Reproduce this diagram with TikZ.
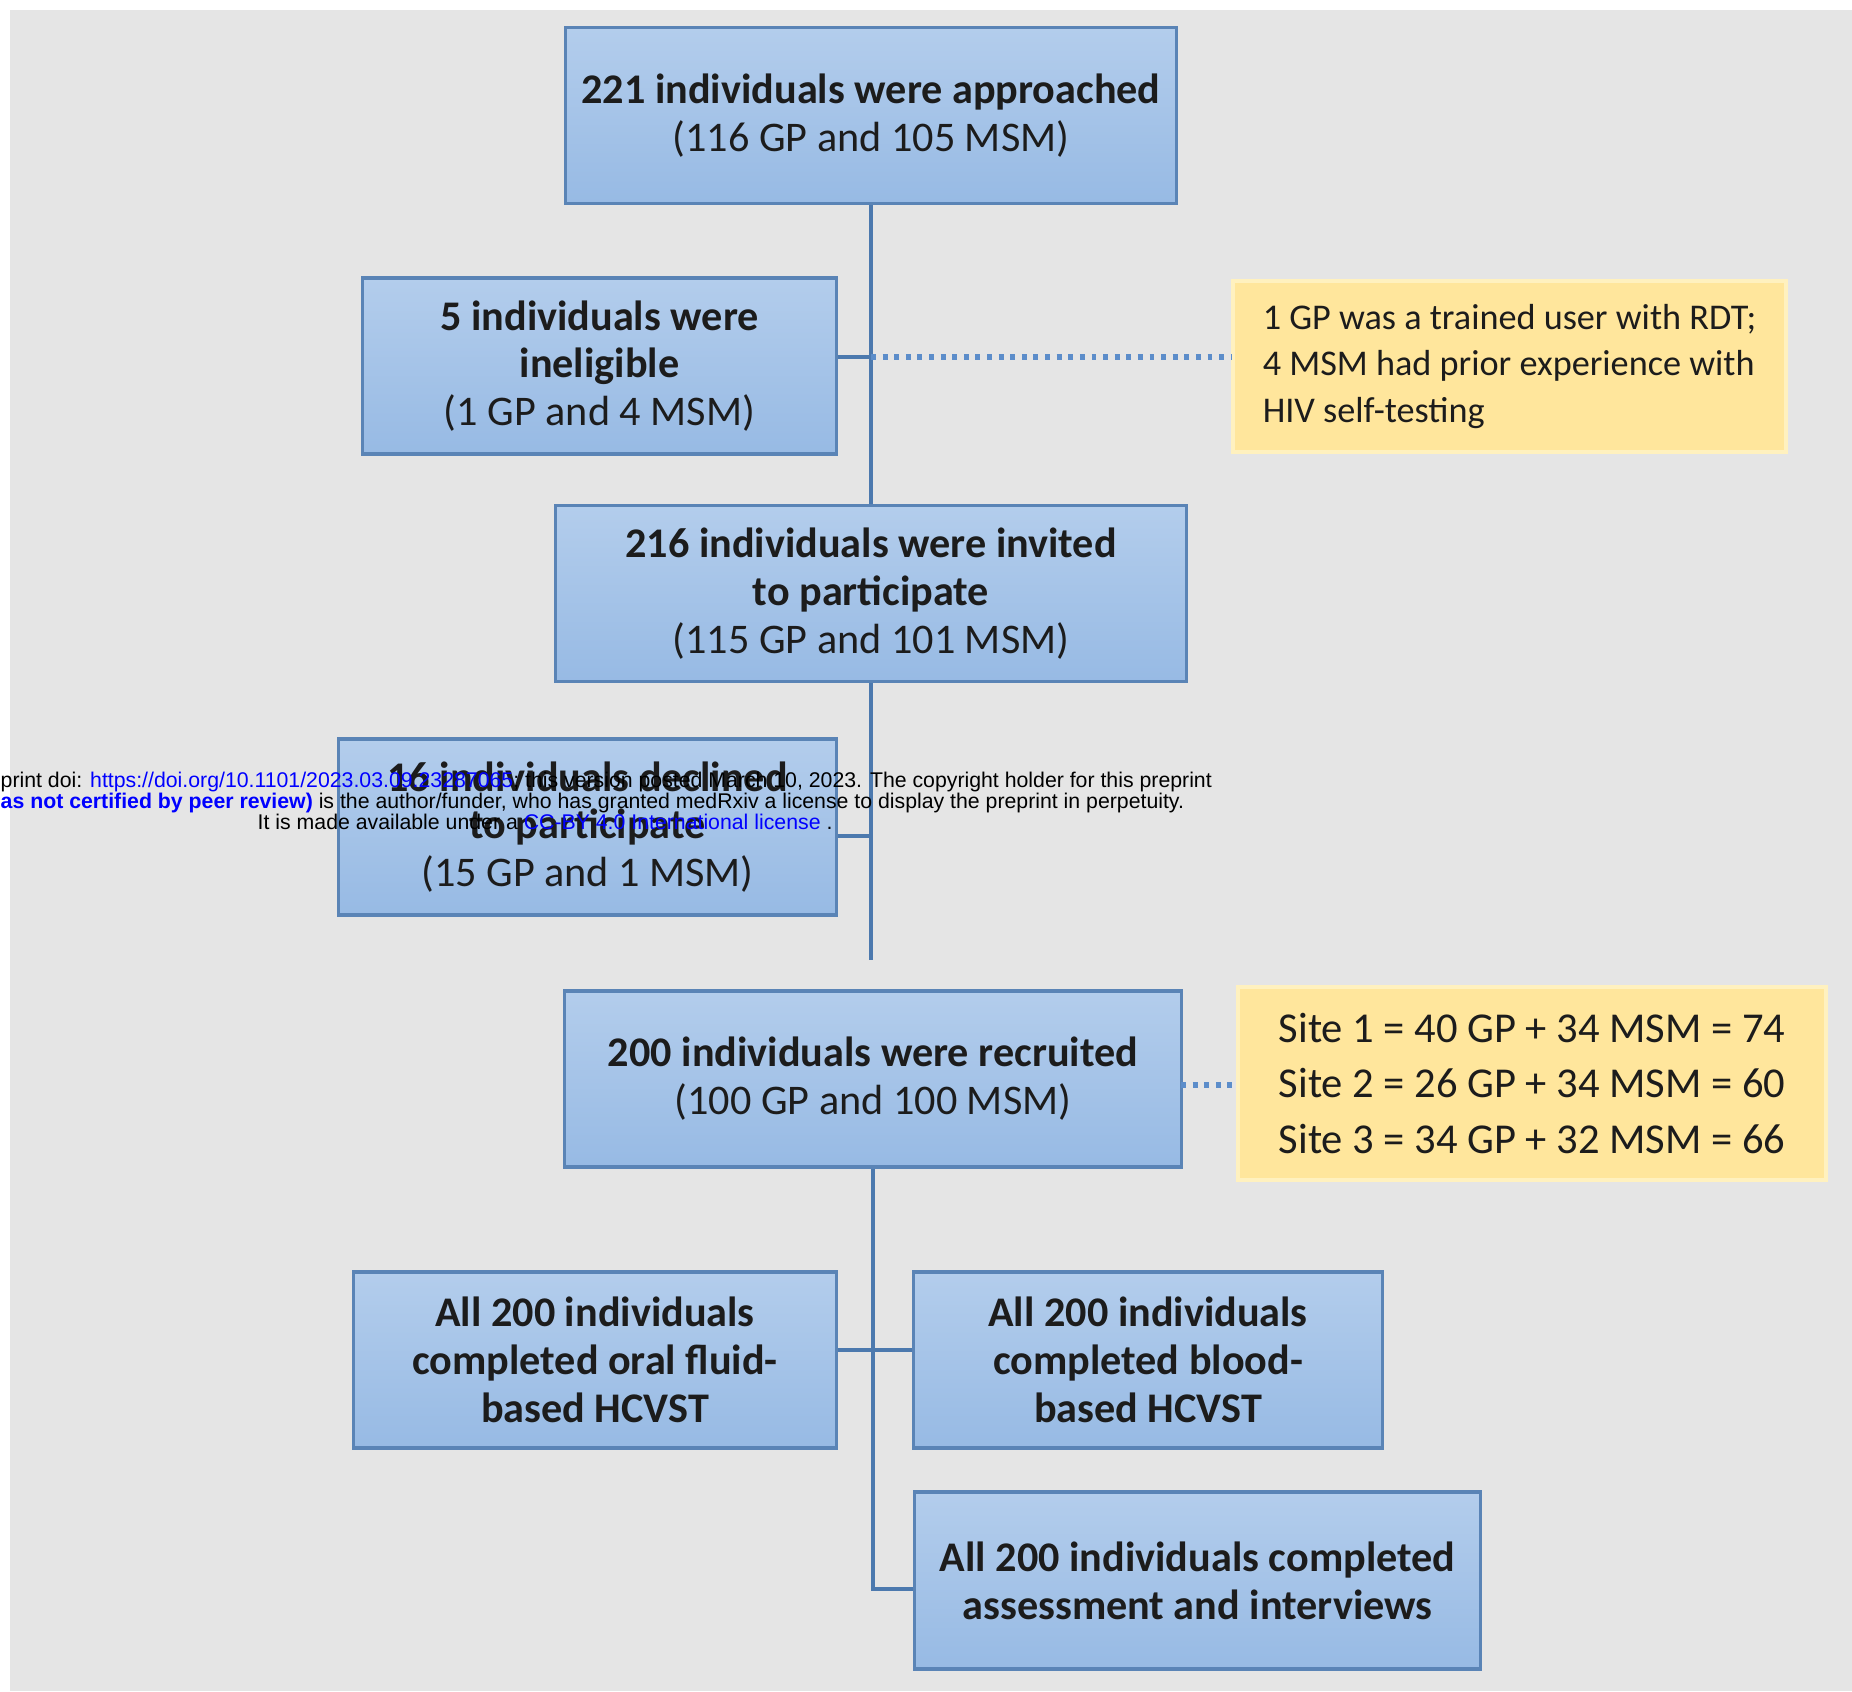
\documentclass[tikz,border=0pt]{standalone}
\usepackage{fontspec}
\setmainfont{Carlito}
\newfontfamily\wmfont{Liberation Sans}
\definecolor{bggray}{HTML}{E5E5E5}
\definecolor{boxtop}{HTML}{B3CDEC}
\definecolor{boxbot}{HTML}{97BAE4}
\definecolor{boxline}{HTML}{5A84B6}
\definecolor{linkcol}{HTML}{4C79AE}
\definecolor{dotcol}{HTML}{5C8DCA}
\definecolor{notefill}{HTML}{FFE69C}
\definecolor{noteline}{HTML}{FFF1BF}
\definecolor{textcol}{HTML}{1C1C1C}
\definecolor{wmblue}{HTML}{0000FF}

\begin{document}
\begin{tikzpicture}[x=0.01cm, y=-0.01cm,
    flowbox/.style={draw=boxline, line width=0.9pt, top color=boxtop, bottom color=boxbot,
      minimum height=1.76cm, align=center, text=textcol, inner sep=0pt,
      font=\fontsize{12}{13.6}\selectfont},
    notebox/.style={draw=noteline, line width=1pt, fill=notefill, align=left, text=textcol, inner sep=0pt},
    link/.style={draw=linkcol, line width=1.1pt},
    dotline/.style={draw=dotcol, line width=1.5pt, dash pattern=on 1.4pt off 1.9pt},
    wmtext/.style={anchor=base west, inner sep=0pt, font=\wmfont\fontsize{6.05}{6}\selectfont}]
    \useasboundingbox (0,0) rectangle (1852,1691);
    \fill[bggray] (10,10) rectangle (1852,1691);

    \node [flowbox, minimum width=6.1cm] (approached) at (871,115.5)
      {\textbf{221 individuals were approached}\\(116 GP and 105 MSM)};
    \node [flowbox, minimum width=4.73cm] (ineligible) at (599.5,366)
      {\textbf{5 individuals were}\\\textbf{ineligible}\\(1 GP and 4 MSM)};
    \node [notebox, minimum width=5.53cm, minimum height=1.71cm,
      font=\fontsize{10.3}{13.3}\selectfont] (reason) at (1509.5,366.5)
      {1 GP was a trained user with RDT;\\4 MSM had prior experience with\\HIV self-testing};
    \node [flowbox, minimum width=6.3cm] (invited) at (871,593.5)
      {\textbf{216 individuals were invited}\\\textbf{to participate}\\(115 GP and 101 MSM)};
    \node [flowbox, minimum width=4.97cm] (declined) at (587.5,827)
      {\textbf{16 individuals declined}\\\textbf{to participate}\\(15 GP and 1 MSM)};
    \node [flowbox, minimum width=6.16cm] (recruited) at (873,1079)
      {\textbf{200 individuals were recruited}\\(100 GP and 100 MSM)};
    \node [notebox, minimum width=5.88cm, minimum height=1.93cm,
      font=\fontsize{12.1}{15.9}\selectfont] (sites) at (1532,1083.5)
      {Site 1 = 40 GP + 34 MSM = 74\\Site 2 = 26 GP + 34 MSM = 60\\Site 3 = 34 GP + 32 MSM = 66};
    \node [flowbox, minimum width=4.82cm] (oral) at (595,1360)
      {\textbf{All 200 individuals}\\\textbf{completed oral fluid-}\\\textbf{based HCVST}};
    \node [flowbox, minimum width=4.68cm] (blood) at (1148,1360)
      {\textbf{All 200 individuals}\\\textbf{completed blood-}\\\textbf{based HCVST}};
    \node [flowbox, minimum width=5.65cm, minimum height=1.77cm] (assess) at (1197.5,1580.5)
      {\textbf{All 200 individuals completed}\\\textbf{assessment and interviews}};

    \coordinate (splitone) at (871,357);
    \coordinate (splittwo) at (871,836);
    \coordinate (gap) at (871,960);
    \coordinate (splitthree) at (873,1350);
    \coordinate (turn) at (873,1589);
    \coordinate (splitsite) at (1181,1085);

    \draw [link] (approached) -- (invited);
    \draw [link] (ineligible.east |- splitone) -- (splitone);
    \draw [dotline] (splitone) -- (splitone -| reason.west);
    \draw [link] (invited) -- (gap);
    \draw [link] (declined.east |- splittwo) -- (splittwo);
    \draw [link] (recruited.south) -- (turn) -- (turn -| assess.west);
    \draw [link] (oral.east |- splitthree) -- (splitthree -| blood.west);
    \draw [dotline] (splitsite) -- (splitsite -| sites.west);

    \node [wmtext] (wmone) at (0,787)
      {print doi: \textcolor{wmblue}{https://doi.org/10.1101/2023.03.09.23287065}; this version posted March 10, 2023. The copyright holder for this preprint};
    \node [wmtext] (wmtwo) at (0,808)
      {\textcolor{wmblue}{\bfseries as not certified by peer review)} is the author/funder, who has granted medRxiv a license to display the preprint in perpetuity.};
    \node [wmtext] (wmthree) at (257,829)
      {It is made available under a \textcolor{wmblue}{CC-BY 4.0 International license} .};
  \end{tikzpicture}
\end{document}
